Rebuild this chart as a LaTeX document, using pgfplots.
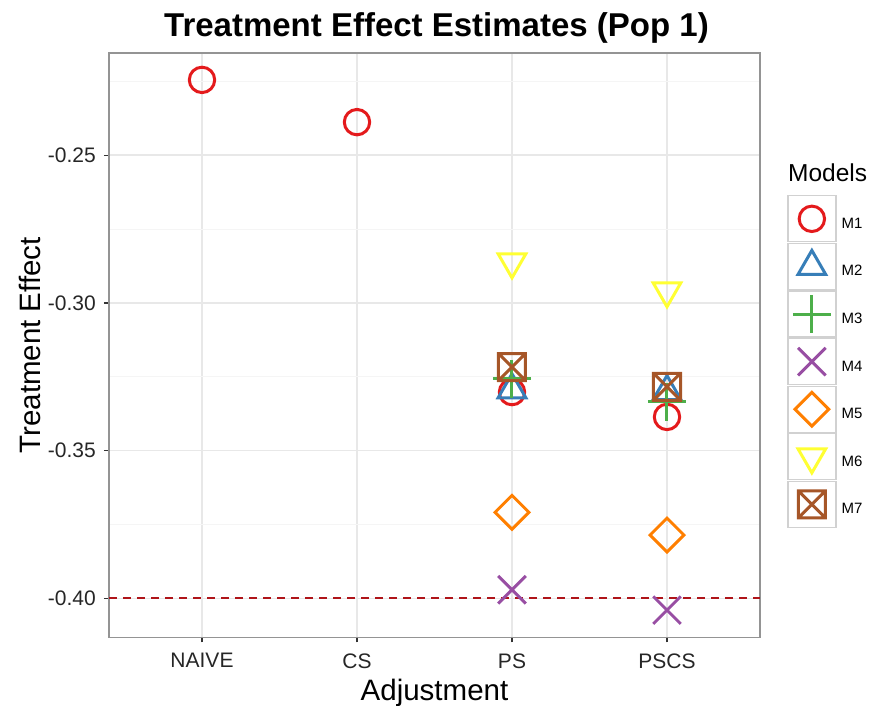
\documentclass[border=0pt]{standalone}
\usepackage{fontspec}
\setmainfont{Liberation Sans}
\usepackage{pgfplots}
\pgfplotsset{compat=1.18}
\definecolor{cM1}{HTML}{E41A1C}
\definecolor{cM2}{HTML}{377EB8}
\definecolor{cM3}{HTML}{4DAF4A}
\definecolor{cM4}{HTML}{984EA3}
\definecolor{cM5}{HTML}{FF7F00}
\definecolor{cM6}{HTML}{FFFF33}
\definecolor{cM7}{HTML}{A65628}
\definecolor{refline}{RGB}{175,20,25}
\pgfdeclareplotmark{sqx}{%
  \pgfpathrectangle{\pgfqpoint{-\pgfplotmarksize}{-\pgfplotmarksize}}{\pgfqpoint{2\pgfplotmarksize}{2\pgfplotmarksize}}%
  \pgfpathmoveto{\pgfqpoint{-\pgfplotmarksize}{-\pgfplotmarksize}}%
  \pgfpathlineto{\pgfqpoint{\pgfplotmarksize}{\pgfplotmarksize}}%
  \pgfpathmoveto{\pgfqpoint{-\pgfplotmarksize}{\pgfplotmarksize}}%
  \pgfpathlineto{\pgfqpoint{\pgfplotmarksize}{-\pgfplotmarksize}}%
  \pgfusepathqstroke}
\pgfplotsset{
  keystyle/.style={only marks,
    legend image code/.code={%
      \draw[black!18, line width=1.3pt, solid, fill=white] (0pt,-18pt) rectangle (48pt,28pt);
      \draw[##1] plot coordinates {(24pt,5pt)};}},
}
\begin{document}
\begin{tikzpicture}
\path[use as bounding box] (0,0) rectangle (871pt,705pt);
\begin{axis}[
  at={(109pt,67.7pt)}, anchor=south west,
  scale only axis, width=651pt, height=584pt,
  xmin=0.4, xmax=4.6, ymin=-0.4132, ymax=-0.2155,
  xtick={1,2,3,4}, xticklabels={NAIVE,CS,PS,PSCS},
  ytick={-0.40,-0.35,-0.30,-0.25}, yticklabels={-0.40,-0.35,-0.30,-0.25},
  minor ytick={-0.425,-0.375,-0.325,-0.275,-0.225},
  xmajorgrids, ymajorgrids, yminorgrids,
  major grid style={black!9, line width=1.6pt},
  minor grid style={black!4, line width=1.1pt},
  axis line style={black!42, line width=1.6pt},
  tick align=outside, xtick pos=bottom, ytick pos=left,
  major tick length=5pt, minor tick length=0pt,
  major tick style={black!80, line width=1.3pt},
  ticklabel style={font=\fontsize{21}{25}\selectfont, text=black!85},
  xticklabel style={inner sep=0pt, anchor=north, yshift=-11pt},
  yticklabel style={inner sep=0pt, anchor=east, xshift=-8pt},
  title={Treatment Effect Estimates (Pop 1)},
  title style={font=\fontsize{33}{38}\selectfont\bfseries, at={(axis description cs:0.5,1)}, anchor=base, yshift=11pt, xshift=2pt},
  xlabel={Adjustment},
  xlabel style={font=\fontsize{29.5}{34}\selectfont, at={(axis description cs:0.5,0)}, anchor=base, yshift=-63.2pt, inner sep=0pt},
  ylabel={Treatment Effect},
  ylabel style={font=\fontsize{29.5}{34}\selectfont, at={(axis description cs:-0.1045,0.5)}, anchor=base, inner sep=0pt},
  legend style={at={(axis description cs:1.0415,0.7574)}, anchor=north west, draw=none, fill=none, inner sep=0pt, row sep=0.3pt, column sep=5pt, font=\fontsize{15}{18}\selectfont, nodes={inner sep=0pt}},
  legend cell align=left,
]
\addplot[refline, line width=1.7pt, dash pattern=on 8pt off 6pt, forget plot] coordinates {(0.4,-0.40) (4.6,-0.40)};
\addplot[keystyle, cM1, mark=o, mark size=12.7pt, mark options={line width=3pt, solid}] coordinates {(1,-0.2245) (2,-0.2388) (3,-0.3302) (4,-0.3386)};
\addlegendentry{M1}
\addplot[keystyle, cM2, mark=triangle, mark size=16pt, mark options={line width=3pt, solid}] coordinates {(3,-0.3294) (4,-0.3300)};
\addlegendentry{M2}
\addplot[keystyle, cM3, mark=+, mark size=19pt, mark options={line width=3pt, solid}] coordinates {(3,-0.3256) (4,-0.3335)};
\addlegendentry{M3}
\addplot[keystyle, cM4, mark=x, mark size=19.5pt, mark options={line width=3pt, solid}] coordinates {(3,-0.3971) (4,-0.4040)};
\addlegendentry{M4}
\addplot[keystyle, cM5, mark=square, mark size=12pt, mark options={rotate=45, line width=3pt, solid}] coordinates {(3,-0.3709) (4,-0.3786)};
\addlegendentry{M5}
\addplot[keystyle, cM6, mark=triangle, mark size=16pt, mark options={rotate=180, line width=3pt, solid}] coordinates {(3,-0.2861) (4,-0.2959)};
\addlegendentry{M6}
\addplot[keystyle, cM7, mark=sqx, mark size=13.5pt, mark options={line width=3pt, solid}] coordinates {(3,-0.3217) (4,-0.3284)};
\addlegendentry{M7}
\end{axis}
\node[anchor=base west, font=\fontsize{24.5}{29}\selectfont, inner sep=0pt] at (788pt,523pt) {Models};
\end{tikzpicture}
\end{document}
